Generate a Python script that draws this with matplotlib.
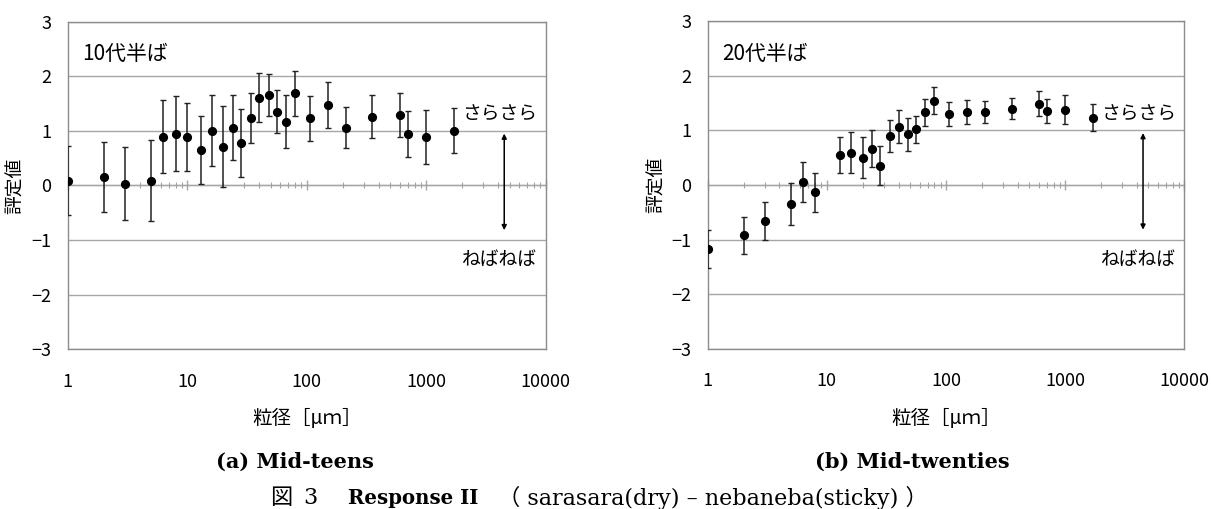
import numpy as np
import matplotlib.pyplot as plt
from matplotlib.ticker import FixedLocator, FixedFormatter, NullLocator, NullFormatter

plt.rcParams['font.family'] = ['Noto Sans CJK JP', 'DejaVu Sans']

# 10代半ば (mid-teens)
x_teen = [1, 2, 3, 5, 6.3, 8, 10, 13, 16, 20, 24, 28, 34, 40, 48, 56, 67, 80,
          106, 150, 212, 355, 600, 710, 1000, 1700]
y_teen = [0.09, 0.15, 0.03, 0.09, 0.89, 0.95, 0.89, 0.65, 1.00, 0.71, 1.06, 0.78,
          1.23, 1.61, 1.66, 1.35, 1.17, 1.69, 1.23, 1.47, 1.06, 1.26, 1.29, 0.95,
          0.89, 1.00]
e_teen = [0.63, 0.64, 0.67, 0.75, 0.67, 0.68, 0.62, 0.62, 0.65, 0.74, 0.59, 0.62,
          0.46, 0.45, 0.39, 0.39, 0.48, 0.41, 0.41, 0.42, 0.37, 0.39, 0.41, 0.42,
          0.50, 0.41]

# 20代半ば (mid-twenties)
x_twen = [1, 2, 3, 5, 6.3, 8, 13, 16, 20, 24, 28, 34, 40, 48, 56, 67, 80,
          106, 150, 212, 355, 600, 710, 1000, 1700]
y_twen = [-1.18, -0.92, -0.665, -0.35, 0.05, -0.135, 0.55, 0.59, 0.495, 0.66, 0.355,
          0.90, 1.07, 0.93, 1.02, 1.33, 1.545, 1.295, 1.33, 1.33, 1.40, 1.49, 1.355,
          1.38, 1.23]
e_twen = [0.35, 0.34, 0.35, 0.38, 0.37, 0.36, 0.33, 0.38, 0.375, 0.34, 0.35, 0.29,
          0.31, 0.30, 0.25, 0.25, 0.245, 0.22, 0.22, 0.20, 0.20, 0.225, 0.225, 0.26,
          0.25]

x_ticks = [1, 10, 100, 1000, 10000]
x_ticklabels = ['1', '10', '100', '1000', '10000']
y_ticks = [-3, -2, -1, 0, 1, 2, 3]

panel_labels = ['10代半ば', '20代半ば']
subcaptions = ['(a) Mid-teens', '(b) Mid-twenties']
arrow_x = 4500

grid_col = '#a6a6a6'
frame_col = '#8c8c8c'

fig = plt.figure(figsize=(12.11, 5.09), dpi=100)
ax1 = fig.add_axes([0.0559, 0.314, 0.3947, 0.6434])
ax2 = fig.add_axes([0.5844, 0.315, 0.3936, 0.6434])

panels = [(ax1, x_teen, y_teen, e_teen), (ax2, x_twen, y_twen, e_twen)]
ylabel_x = [-0.088, -0.085]

for i, (ax, xs, ys, es) in enumerate(panels):
    ax.set_xscale('log')
    ax.set_xlim(1, 10000)
    ax.set_ylim(-3, 3)
    ax.set_yticks(y_ticks)
    ax.yaxis.grid(True, color=grid_col, linewidth=1.0)
    ax.set_axisbelow(True)
    for sp in ax.spines.values():
        sp.set_color(frame_col)
        sp.set_linewidth(1.0)
    ax.tick_params(axis='y', length=0, pad=12, labelsize=13)
    ax.xaxis.set_major_locator(FixedLocator(x_ticks))
    ax.xaxis.set_major_formatter(FixedFormatter(x_ticklabels))
    ax.xaxis.set_minor_locator(NullLocator())
    ax.tick_params(axis='x', length=0, pad=17, labelsize=13)

    # axis line with log ticks crossing at y = 0
    zax = ax.secondary_xaxis(0.5)
    zax.spines['bottom'].set_color(grid_col)
    zax.tick_params(which='both', direction='inout', colors=grid_col)
    zax.tick_params(which='major', length=7, width=1)
    zax.tick_params(which='minor', length=5, width=0.8)
    zax.xaxis.set_major_formatter(NullFormatter())
    zax.xaxis.set_minor_formatter(NullFormatter())

    ax.errorbar(xs, ys, yerr=es, fmt='o', color='black', ms=5.6,
                ecolor='#222222', elinewidth=1.1, capsize=2.5, capthick=1.0,
                zorder=3)

    ax.text(0.031, 0.9, panel_labels[i], transform=ax.transAxes,
            fontsize=15, va='center', ha='left')
    ax.text(0.982, 1.30, 'さらさら', transform=ax.get_yaxis_transform(),
            fontsize=13.5, va='center', ha='right')
    ax.text(0.982, -1.36, 'ねばねば', transform=ax.get_yaxis_transform(),
            fontsize=13.5, va='center', ha='right')
    ax.annotate('', xy=(arrow_x, 0.95), xytext=(arrow_x, -0.82),
                arrowprops=dict(arrowstyle='<|-|>', color='black', lw=1.1,
                                mutation_scale=7, shrinkA=0, shrinkB=0))

    ax.set_ylabel('評定値', fontsize=13.5)
    ax.yaxis.set_label_coords(ylabel_x[i], 0.5)
    ax.set_xlabel('粒径［μｍ］', fontsize=14)
    ax.xaxis.set_label_coords(0.5, -0.18)

serif = ['DejaVu Serif', 'Noto Sans CJK JP']
fig.text(295 / 1211, 1 - 462 / 509, subcaptions[0], fontsize=15,
         fontweight='bold', family=serif, ha='center', va='center')
fig.text(912 / 1211, 1 - 462 / 509, subcaptions[1], fontsize=15,
         fontweight='bold', family=serif, ha='center', va='center')

cap_y = 1 - 498 / 509
fig.text(270 / 1211, cap_y, '図', fontsize=16, family=serif, ha='left', va='center')
fig.text(303 / 1211, cap_y, '3', fontsize=16, family=serif, ha='left', va='center')
fig.text(348 / 1211, cap_y, 'Response II', fontsize=14.2, fontweight='bold',
         family=serif, ha='left', va='center')
fig.text(498 / 1211, cap_y, '（ sarasara(dry) – nebaneba(sticky) ）', fontsize=16,
         family=serif, ha='left', va='center')

fig.savefig('out.png', dpi=100)
